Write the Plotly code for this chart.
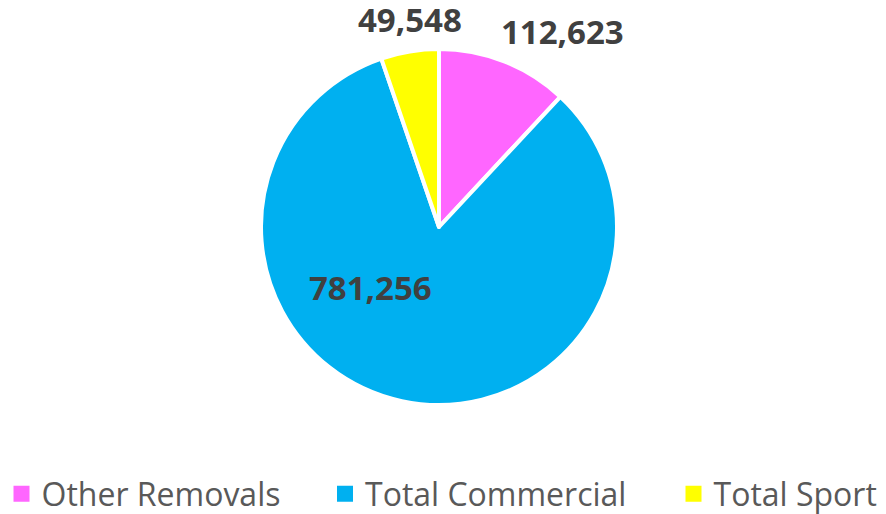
import plotly.graph_objects as go

labels = ["Other Removals", "Total Commercial", "Total Sport"]
values = [112623, 781256, 49548]
colors = ["#FF66FF", "#00B0F0", "#FFFF00"]
# label anchor positions (paper coords) for each value label
label_x = [562/886, 370/886, 410/886]
label_y = [1-31/514, 1-287/514, 1-20/514]
# legend swatch centre positions (paper x)
legend_x = [21.5/886, 345/886, 693.5/886]

fig = go.Figure(go.Pie(
    labels=labels, values=values, sort=False, direction="clockwise", rotation=0,
    marker=dict(colors=colors, line=dict(color="white", width=4)),
    textinfo="none", hoverinfo="label+value", showlegend=False,
    domain=dict(x=[261/886, 617/886], y=[1-405/514, 1-49/514]),
))

legend_ids = ["legend", "legend2", "legend3"]
for name, c, lid in zip(labels, colors, legend_ids):
    fig.add_trace(go.Scatter(x=[None], y=[None], mode="markers", name=name, legend=lid,
                             marker=dict(symbol="square", size=16, color=c, line=dict(width=0)),
                             hoverinfo="skip"))

for v, x, y in zip(values, label_x, label_y):
    fig.add_annotation(x=x, y=y, xref="paper", yref="paper", text=f"<b>{v:,}</b>",
                       xanchor="center", yanchor="middle",
                       showarrow=False, font=dict(family="Open Sans", size=33, color="#404040"))

leg_font = dict(family="Open Sans", size=32, color="#595959")
layout_legends = {}
for lid, lx in zip(legend_ids, legend_x):
    layout_legends[lid] = dict(x=lx - 20/886, xanchor="left", y=(514-494)/514, yanchor="middle",
                               font=leg_font, bgcolor="rgba(0,0,0,0)", orientation="h")

fig.update_layout(
    width=886, height=514, margin=dict(l=0, r=0, t=0, b=0, autoexpand=False),
    paper_bgcolor="white", plot_bgcolor="white",
    xaxis=dict(visible=False), yaxis=dict(visible=False),
    showlegend=True,
    **layout_legends,
)
fig.write_html("out.html", post_script="document.body.style.margin='0';",
               config={"displayModeBar": False})
